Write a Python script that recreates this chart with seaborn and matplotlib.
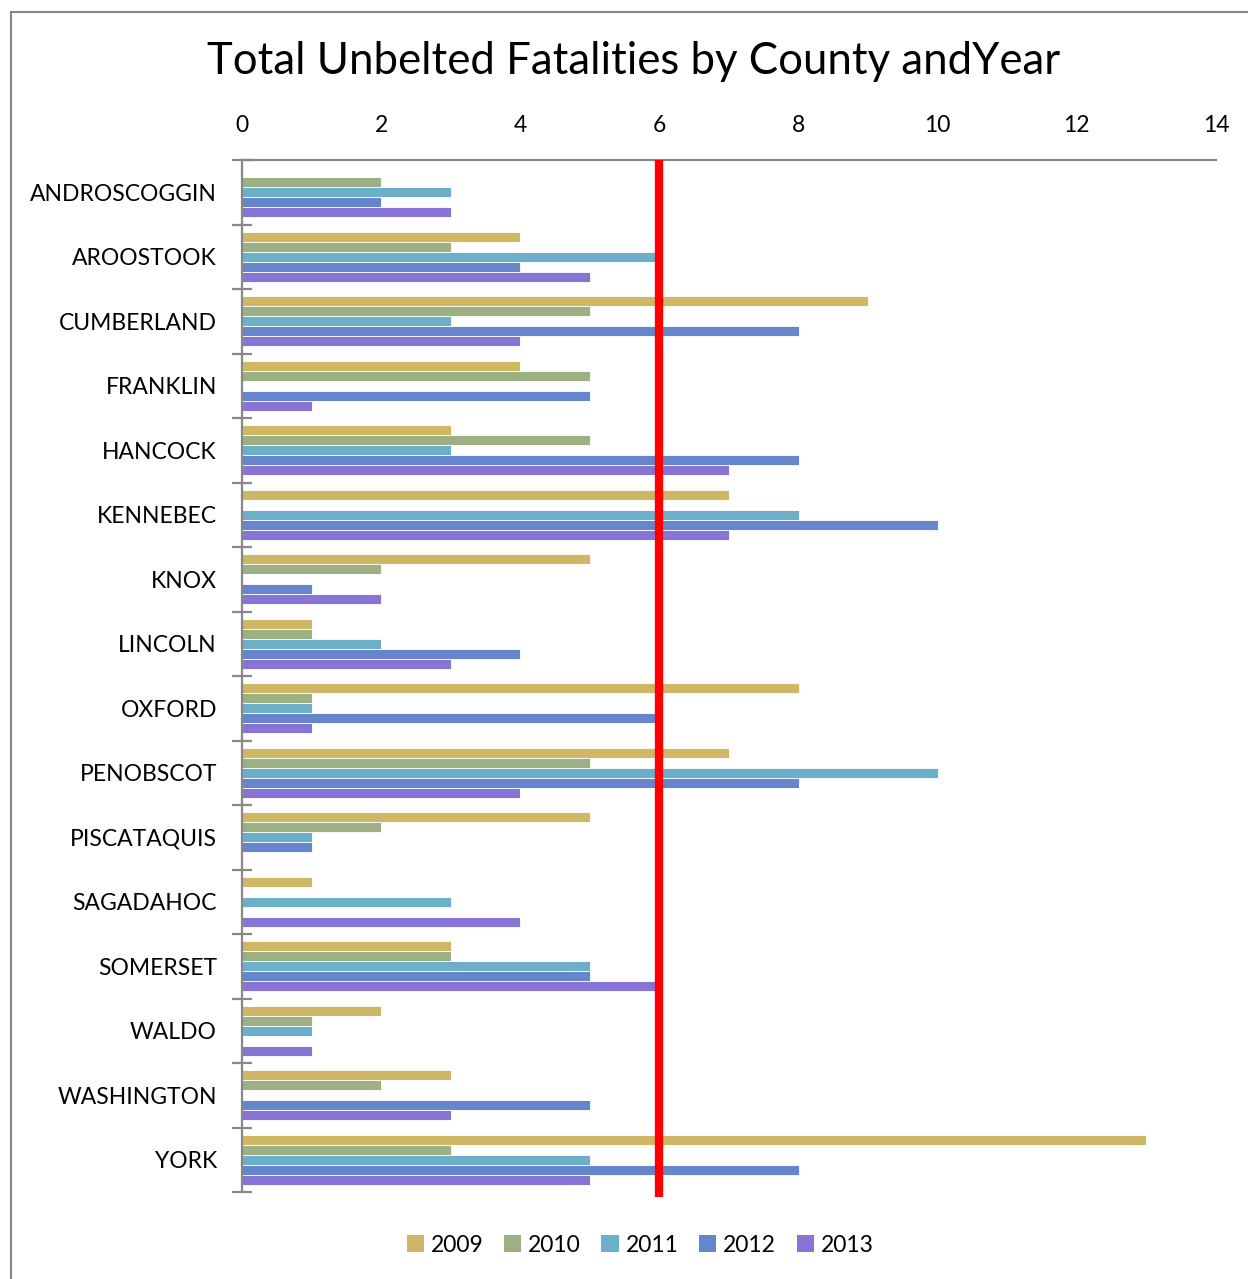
import numpy as np
import pandas as pd
import seaborn as sns
import matplotlib.pyplot as plt
from matplotlib.patches import Rectangle, Patch
from matplotlib.ticker import FixedLocator

counties = ["ANDROSCOGGIN", "AROOSTOOK", "CUMBERLAND", "FRANKLIN", "HANCOCK",
            "KENNEBEC", "KNOX", "LINCOLN", "OXFORD", "PENOBSCOT", "PISCATAQUIS",
            "SAGADAHOC", "SOMERSET", "WALDO", "WASHINGTON", "YORK"]
years = ["2009", "2010", "2011", "2012", "2013"]

y2009 = [0, 4, 9, 4, 3, 7, 5, 1, 8, 7, 5, 1, 3, 2, 3, 13]
y2010 = [2, 3, 5, 5, 5, 0, 2, 1, 1, 5, 2, 0, 3, 1, 2, 3]
y2011 = [3, 6, 3, 0, 3, 8, 0, 2, 1, 10, 1, 3, 5, 1, 0, 5]
y2012 = [2, 4, 8, 5, 8, 10, 1, 4, 6, 8, 1, 0, 5, 0, 5, 8]
y2013 = [3, 5, 4, 1, 7, 7, 2, 3, 1, 4, 0, 4, 6, 1, 3, 5]

threshold = 6
x_ticks = [0, 2, 4, 6, 8, 10, 12, 14]

colors = ["#CFB865", "#9DB084", "#6BB0C8", "#6586CC", "#8874D4"]

series = [y2009, y2010, y2011, y2012, y2013]
df = pd.DataFrame({
    "County": np.tile(counties, len(years)),
    "Year": np.repeat(years, len(counties)),
    "Fatalities": np.concatenate(series),
})

sns.set_style("white")
plt.rcParams["font.family"] = ["Lato", "DejaVu Sans"]
plt.rcParams["text.color"] = "black"
plt.rcParams["xtick.labelcolor"] = "black"
plt.rcParams["ytick.labelcolor"] = "black"

fig = plt.figure(figsize=(12.48, 12.79), dpi=100)
ax = fig.add_axes([242 / 1248, 1 - 1192 / 1279, (1216 - 242) / 1248, (1192 - 160) / 1279])

sns.barplot(data=df, y="County", x="Fatalities", hue="Year", order=counties,
            hue_order=years, palette=colors, orient="h", width=0.78,
            edgecolor="white", linewidth=0.6, saturation=1, ax=ax, legend=False)

ax.set_xlim(0, 14)
ax.set_ylim(len(counties) - 0.5, -0.5)
ax.set_xlabel("")
ax.set_ylabel("")

# value axis along the top
ax.xaxis.tick_top()
ax.set_xticks(x_ticks)
ax.set_xticklabels([str(t) for t in x_ticks], fontsize=16.5)
ax.tick_params(axis="x", length=0, pad=17)

# category labels centred, tick marks between groups
ax.set_yticks(range(len(counties)))
ax.set_yticklabels(counties, fontsize=16.5)
ax.tick_params(axis="y", which="major", left=True, length=0, pad=18)
ax.yaxis.set_minor_locator(FixedLocator(np.arange(-0.5, len(counties), 1.0)))
ax.tick_params(axis="y", which="minor", left=True, length=14, width=1.6,
               color="#888888", direction="inout")

for side in ["right", "bottom"]:
    ax.spines[side].set_visible(False)
for side in ["left", "top"]:
    ax.spines[side].set_color("#888888")
    ax.spines[side].set_linewidth(1.6)

ax.axvline(threshold, ymin=-0.005, ymax=1, color="red", linewidth=6,
           solid_capstyle="butt", clip_on=False, zorder=5)

fig.text(634 / 1248, 1 - 62 / 1279, "Total Unbelted Fatalities by County andYear",
         ha="center", va="center", fontsize=31.5)

handles = [Patch(facecolor=c, edgecolor="none") for c in colors]
fig.legend(handles, years, loc="center", bbox_to_anchor=(640 / 1248, 1 - 1245 / 1279),
           ncol=5, frameon=False, fontsize=16.5, handlelength=0.75, handleheight=0.75,
           handletextpad=0.3, columnspacing=0.9)

fig.patches.append(Rectangle((11 / 1248, -0.05), 1.2, 1 - 12 / 1279 + 0.05,
                             transform=fig.transFigure, fill=False,
                             edgecolor="#888888", linewidth=1.5))

fig.savefig("out.png", dpi=100, facecolor="white")
